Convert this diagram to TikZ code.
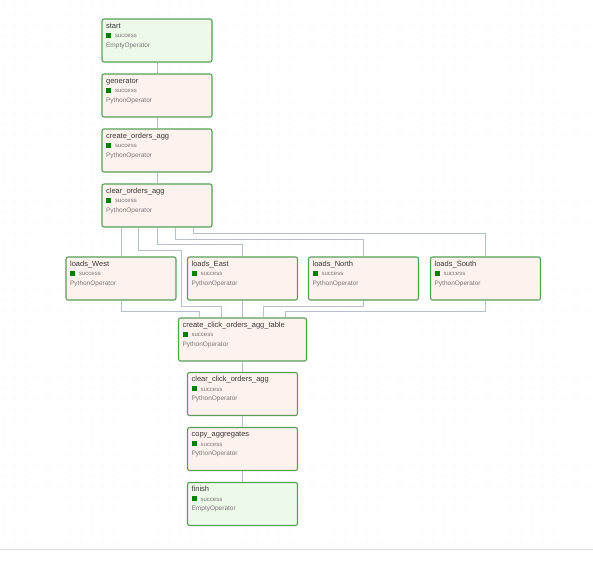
\documentclass[tikz,border=0pt]{standalone}
\usepackage{fontspec}
\setmainfont{Liberation Sans}

\definecolor{pyfill}{RGB}{254,242,238}
\definecolor{emptyfill}{RGB}{237,249,233}
\definecolor{okborder}{RGB}{86,160,86}
\definecolor{okgreen}{RGB}{0,128,0}
\definecolor{edgegray}{RGB}{182,192,202}
\definecolor{titlegray}{RGB}{55,55,55}
\definecolor{subgray}{RGB}{120,120,120}
\definecolor{dotgray}{RGB}{232,232,232}

% text inside a task box: name, state, operator
\newcommand{\taskinfo}[2]{{\fontsize{7.5}{9.5}\selectfont\color{titlegray}#1}\\
  {\fontsize{6}{9.5}\selectfont{\color{okgreen}\rule{5pt}{5pt}}\hspace{4pt}\color{subgray}success}\\
  {\fontsize{6.5}{9.5}\selectfont\color{subgray}#2}}

\begin{document}
\begin{tikzpicture}[x=1pt,y=-1pt,
    task/.style={draw=okborder, line width=1.1pt, rounded corners=2pt,
      minimum width=110pt, minimum height=43pt, inner sep=0pt},
    pytask/.style={task, fill=pyfill},
    emptytask/.style={task, fill=emptyfill},
    info/.style={anchor=base west, inner sep=0pt, align=left,
      font=\fontsize{7.5}{9.5}\selectfont},
    conn/.style={draw=edgegray, line width=0.9pt}]

    % Canvas, dotted grid and bottom rule
    \useasboundingbox (0,0) rectangle (593,571);
    \fill[white] (0,0) rectangle (593,571);
    \foreach \i in {0,...,53} {
        \foreach \j in {0,...,49} {
            \fill[dotgray] (4+\i*11,3+\j*11) circle (0.55);
        }
    }
    \draw[black!13, line width=0.8pt] (0,549) -- (593,549);

    % Upper chain
    \node[emptytask] (start) at (157,40.5) {};
    \node[pytask] (generator) at (157,95.5) {};
    \node[pytask] (create) at (157,150.5) {};
    \node[pytask] (clear) at (157,205.5) {};

    % The four loads
    \node[pytask] (west) at (121,278.5) {};
    \node[pytask] (east) at (242.5,278.5) {};
    \node[pytask] (north) at (363.5,278.5) {};
    \node[pytask] (south) at (485.5,278.5) {};

    % Lower chain
    \node[pytask, minimum width=128pt] (click) at (242.5,339.5) {};
    \node[pytask] (clearclick) at (242.5,394) {};
    \node[pytask] (copy) at (242.5,449) {};
    \node[emptytask] (finish) at (242.5,504) {};

    % Texts of the boxes (anchored on the last baseline)
    \node[info] (start-info) at ([shift={(4.5,29)}]start.north west) {\taskinfo{start}{EmptyOperator}};
    \node[info] (generator-info) at ([shift={(4.5,29)}]generator.north west) {\taskinfo{generator}{PythonOperator}};
    \node[info] (create-info) at ([shift={(4.5,29)}]create.north west) {\taskinfo{create\_orders\_agg}{PythonOperator}};
    \node[info] (clear-info) at ([shift={(4.5,29)}]clear.north west) {\taskinfo{clear\_orders\_agg}{PythonOperator}};
    \node[info] (west-info) at ([shift={(4.5,29)}]west.north west) {\taskinfo{loads\_West}{PythonOperator}};
    \node[info] (east-info) at ([shift={(4.5,29)}]east.north west) {\taskinfo{loads\_East}{PythonOperator}};
    \node[info] (north-info) at ([shift={(4.5,29)}]north.north west) {\taskinfo{loads\_North}{PythonOperator}};
    \node[info] (south-info) at ([shift={(4.5,29)}]south.north west) {\taskinfo{loads\_South}{PythonOperator}};
    \node[info] (click-info) at ([shift={(4.5,29)}]click.north west) {\taskinfo{create\_click\_orders\_agg\_table}{PythonOperator}};
    \node[info] (clearclick-info) at ([shift={(4.5,29)}]clearclick.north west) {\taskinfo{clear\_click\_orders\_agg}{PythonOperator}};
    \node[info] (copy-info) at ([shift={(4.5,29)}]copy.north west) {\taskinfo{copy\_aggregates}{PythonOperator}};
    \node[info] (finish-info) at ([shift={(4.5,29)}]finish.north west) {\taskinfo{finish}{EmptyOperator}};

    % Straight connectors
    \draw[conn] (start) -- (generator);
    \draw[conn] (generator) -- (create);
    \draw[conn] (create) -- (clear);
    \draw[conn] (click) -- (clearclick);
    \draw[conn] (clearclick) -- (copy);
    \draw[conn] (copy) -- (finish);

    % Fan out of clear_orders_agg
    \draw[conn] ([xshift=-36pt]clear.south) -- (west.north);
    \draw[conn] ([xshift=-18.3pt]clear.south) -- ++(0,22.5) -- ++(43,0) -- ++(0,56.5)
        -| ([xshift=-21.5pt]click.north);
    \draw[conn] (clear.south) -- ++(0,17) -| (east.north);
    \draw[conn] ([xshift=18.3pt]clear.south) -- ++(0,11.5) -| (north.north);
    \draw[conn] ([xshift=36.6pt]clear.south) -- ++(0,6) -| (south.north);

    % Fan in to create_click_orders_agg_table
    \draw[conn] (west.south) -- ++(0,11) -| ([xshift=-43pt]click.north);
    \draw[conn] (east.south) -- (click.north);
    \draw[conn] (north.south) -- ++(0,6) -| ([xshift=21pt]click.north);
    \draw[conn] (south.south) -- ++(0,11) -| ([xshift=43pt]click.north);
\end{tikzpicture}
\end{document}
